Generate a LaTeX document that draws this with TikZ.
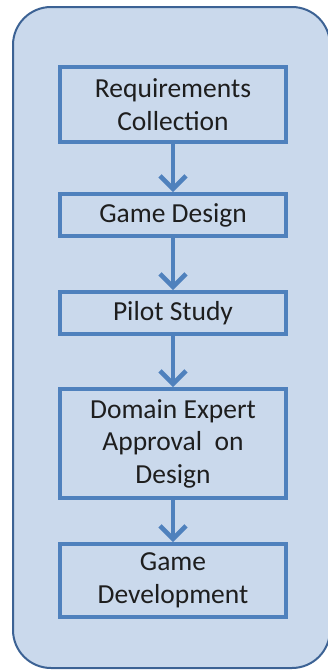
\documentclass[tikz,border=0pt]{standalone}
\usepackage{fontspec}
\setmainfont{Carlito}
\usetikzlibrary{arrows.meta}

\begin{document}
\begin{tikzpicture}[
  x=1pt, y=1pt,
  font=\fontsize{27.5}{32.5}\selectfont,
  panel/.style={draw=panelLine, line width=2pt, fill=panelFill, rounded corners=38pt},
  stage/.style={draw=stageLine, line width=4pt, align=center, minimum width=226pt, inner sep=1pt},
  flow/.style={draw=stageLine, line width=4.5pt, -{Straight Barb[length=13pt, width=26pt]}},
]

\definecolor{panelFill}{RGB}{202,217,236}
\definecolor{panelLine}{RGB}{60,98,148}
\definecolor{stageLine}{RGB}{79,129,189}
\definecolor{stageText}{RGB}{30,30,30}

\useasboundingbox (0,0) rectangle (328,-670);

% Background panel.
\draw[panel] (13,-7) rectangle (330,-668);

% Stages.
\node[stage, minimum height=75pt, text=stageText] (req) at (173,-104.5) {Requirements\\Collection};
\node[stage, minimum height=42pt, text=stageText] (design) at (173,-215) {Game Design};
\node[stage, minimum height=42pt, text=stageText] (pilot) at (173,-313) {Pilot Study};
\node[stage, minimum height=109pt, text=stageText] (expert) at (173,-443.5) {Domain Expert\\Approval\ \ on\\Design};
\node[stage, minimum height=73pt, text=stageText] (dev) at (173,-580.5) {Game\\Development};

% Arrows between stages.
\draw[flow] (req) -- (design);
\draw[flow] (design) -- (pilot);
\draw[flow] (pilot) -- (expert);
\draw[flow] (expert) -- (dev);

\end{tikzpicture}
\end{document}
